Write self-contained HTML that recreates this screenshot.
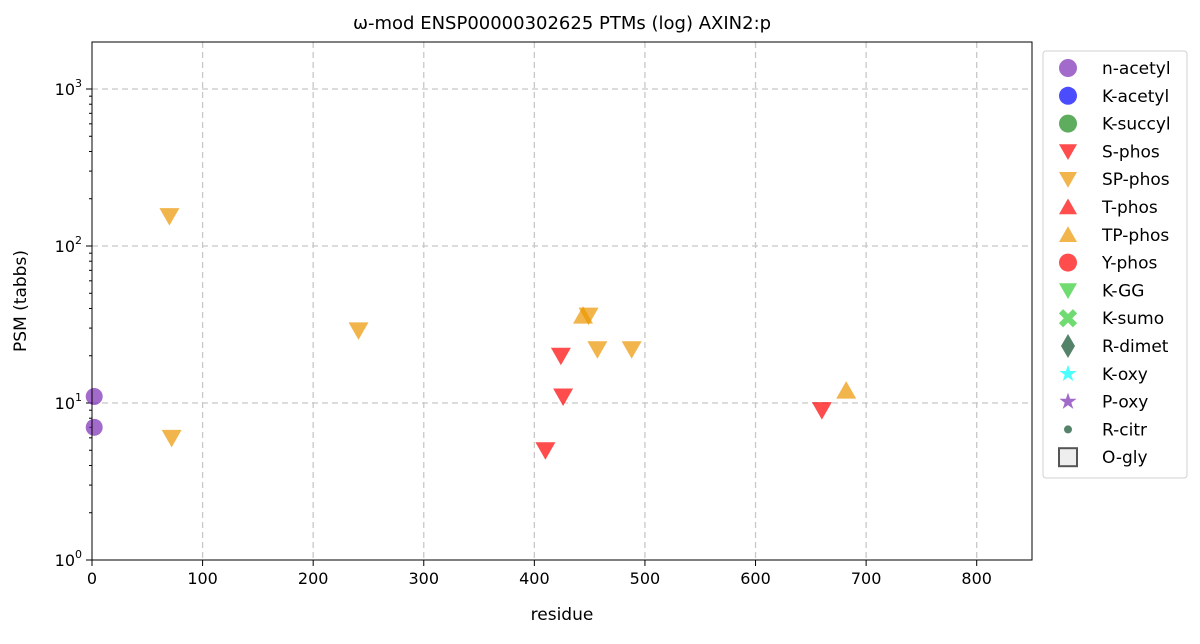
<!DOCTYPE html>
<html><head><meta charset="utf-8"><style>
body{margin:0;background:#fff;font-family:"Liberation Sans","DejaVu Sans",sans-serif}
svg text{font-family:"DejaVu Sans","Liberation Sans",sans-serif;fill:#000}
</style></head><body>
<svg id="chart" width="1200" height="639" xmlns="http://www.w3.org/2000/svg">
<text x="562" y="29" font-size="18" text-anchor="middle">ω-mod ENSP00000302625 PTMs (log) AXIN2:p</text>
<g id="grid"></g>
<g id="axes"></g>
<g id="marks"></g>
<rect x="92" y="42" width="940" height="518" fill="none" stroke="#000" stroke-width="1"/>
<text x="562" y="620" font-size="17" text-anchor="middle">residue</text>
<text transform="translate(26,301) rotate(-90)" font-size="17" text-anchor="middle">PSM (tabbs)</text>
<g id="legend"></g>
</svg>
<script>
const xTicks=[0,100,200,300,400,500,600,700,800];
const yTickExp=[0,1,2,3];
const nacetylRes=[2,2]; const nacetylPsm=[11,7];
const spRes=[70,72,241,449,457,488]; const spPsm=[155,6,29,36,22,22];
const tpRes=[444,682]; const tpPsm=[36,12];
const sRes=[424,426,410,660]; const sPsm=[20,11,5,9];
const legendLabels=["n-acetyl","K-acetyl","K-succyl","S-phos","SP-phos","T-phos","TP-phos","Y-phos","K-GG","K-sumo","R-dimet","K-oxy","P-oxy","R-citr","O-gly"];

const NS="http://www.w3.org/2000/svg";
const X0=92,X1=1032,XMAX=850,Y0=560,DEC=157;
const xs=v=>X0+v*(X1-X0)/XMAX;
const ys=v=>Y0-Math.log10(v)*DEC;
function mk(tag,attrs,parent){const e=document.createElementNS(NS,tag);for(const k in attrs)e.setAttribute(k,attrs[k]);parent.appendChild(e);return e;}
const grid=document.getElementById('grid'),axes=document.getElementById('axes'),marks=document.getElementById('marks'),leg=document.getElementById('legend');
xTicks.forEach(t=>{const x=xs(t);
 if(t>0){const g=mk('line',{x1:x,x2:x,y1:42,y2:560,stroke:'#c8c8c8','stroke-width':1.3,'stroke-dasharray':'6,4'},grid);
 
 }
 mk('line',{x1:x,x2:x,y1:560,y2:566,stroke:'#000'},axes);
 const tx=mk('text',{x:x,y:584,'font-size':16,'text-anchor':'middle'},axes);tx.textContent=t;
 
 });
yTickExp.forEach(e=>{const y=Y0-e*DEC;
 if(e>0){const g=mk('line',{x1:92,x2:1032,y1:y,y2:y,stroke:'#c8c8c8','stroke-width':1.3,'stroke-dasharray':'6,4'},grid);
 
 }
 mk('line',{x1:86,x2:92,y1:y,y2:y,stroke:'#000'},axes);
 const tx=mk('text',{x:82,y:y+6,'font-size':16,'text-anchor':'end'},axes);
 tx.innerHTML='10<tspan dy="-8" font-size="11">'+e+'</tspan>';
 
 
 for(let m=2;m<10;m++){const yy=Y0-(e+Math.log10(m))*DEC;if(yy<42)break;mk('line',{x1:89,x2:92,y1:yy,y2:yy,stroke:'#000'},axes);}});
function circ(x,y,c,r,p){return mk('circle',{cx:x,cy:y,r:r,fill:c,'fill-opacity':0.7},p);}
function tri(x,y,c,down,p,s=10){const d=down?`M${x-s},${y-s*0.8}L${x+s},${y-s*0.8}L${x},${y+s*0.95}Z`:`M${x-s},${y+s*0.8}L${x+s},${y+s*0.8}L${x},${y-s*0.95}Z`;return mk('path',{d:d,fill:c,'fill-opacity':0.7},p);}
const RED='#ff0000',ORG='#eb9500',PUR='#7a2cb5';
nacetylRes.forEach((r,i)=>{const e=circ(xs(r),ys(nacetylPsm[i]),PUR,8.5,marks);
 
 });
spRes.forEach((r,i)=>{const e=tri(xs(r),ys(spPsm[i]),ORG,true,marks);
 
 });
tpRes.forEach((r,i)=>{const e=tri(xs(r),ys(tpPsm[i]),ORG,false,marks);
 
 });
sRes.forEach((r,i)=>{const e=tri(xs(r),ys(sPsm[i]),RED,true,marks);
 
 });
mk('rect',{x:1043,y:51,width:144,height:427,rx:3,fill:'#fff',stroke:'#d0d0d0'},leg);
legendLabels.forEach((l,i)=>{const y=68+i*27.8,x=1068;let e;
 switch(i){
 case 0:e=circ(x,y,PUR,9,leg);break;
 case 1:e=circ(x,y,'#0000ff',9,leg);break;
 case 2:e=circ(x,y,'#1a8a1a',9,leg);break;
 case 3:e=tri(x,y,RED,true,leg,9);break;
 case 4:e=tri(x,y,ORG,true,leg,9);break;
 case 5:e=tri(x,y,RED,false,leg,9);break;
 case 6:e=tri(x,y,ORG,false,leg,9);break;
 case 7:e=circ(x,y,RED,9,leg);break;
 case 8:e=tri(x,y,'#33cc33',true,leg,9);break;
 case 9:e=mk('path',{d:`M${x-7},${y-7}L${x+7},${y+7}M${x+7},${y-7}L${x-7},${y+7}`,stroke:'#33cc33','stroke-width':6,'stroke-opacity':0.7},leg);break;
 case 10:e=mk('path',{d:`M${x},${y-12}L${x+7},${y}L${x},${y+12}L${x-7},${y}Z`,fill:'#0b4f2b','fill-opacity':0.7},leg);break;
 case 11:case 12:{const c=i==11?'#00ffff':'#7a2cb5';let d='';for(let k=0;k<10;k++){const r=k%2?3.5:9,a=-Math.PI/2+k*Math.PI/5;d+=(k?'L':'M')+(x+r*Math.cos(a)).toFixed(1)+','+(y+r*Math.sin(a)).toFixed(1);}e=mk('path',{d:d+'Z',fill:c,'fill-opacity':0.7},leg);break;}
 case 13:e=circ(x,y,'#0b4f2b',4,leg);break;
 case 14:e=mk('rect',{x:x-9,y:y-9,width:18,height:18,fill:'#eee',stroke:'#555','stroke-width':2},leg);break;}
 
 
 const t=mk('text',{x:1102,y:y+6,'font-size':17},leg);t.textContent=l;
 
 });
</script>
</body></html>
